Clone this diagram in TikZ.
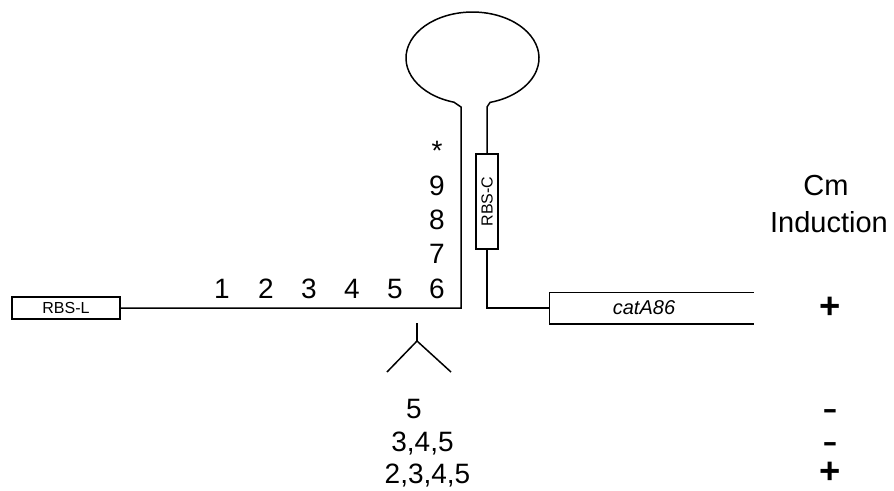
\documentclass[tikz,border=0pt]{standalone}
\usepackage{fontspec}
\setmainfont{Liberation Sans}
\begin{document}
\begin{tikzpicture}[x=1pt,y=1pt,line width=1.5pt,
  lbl/.style={font=\fontsize{28}{30}\selectfont, anchor=base, inner sep=0pt},
  head/.style={font=\fontsize{29}{31}\selectfont, anchor=base, inner sep=0pt},
  pm/.style={font=\fontsize{28}{30}\selectfont\bfseries, anchor=base, inner sep=0pt},
  smallbox/.style={draw, line width=1.5pt, font=\fontsize{16}{18}\selectfont, inner sep=0pt}]
\useasboundingbox (0,0) rectangle (894,-490);

% boxes
\node[smallbox, minimum width=108pt, minimum height=22pt] (rbsl) at (66,-308) {RBS-L};
\node[smallbox, minimum width=22pt, minimum height=95pt] (rbsc) at (487,-201.5) {\rotatebox{90}{RBS-C}};
\node[minimum width=203pt, minimum height=30pt, inner sep=0pt] (cat) at (651.5,-308) {};
\node[font=\fontsize{20}{22}\selectfont\itshape, inner sep=0pt] (catlbl) at (644,-308) {catA86};

% junction coordinates
\coordinate (jl) at (461,-308);
\coordinate (stl) at (461,-107);
\coordinate (el) at (453.95,-102.2);
\coordinate (str) at (487,-107);
\coordinate (jr) at (487,-308);

% stem-loop
\draw (rbsl.east) -- (jl) -- (stl) -- (el)
  arc[start angle=253.8, end angle=-74.7, x radius=66.5, y radius=46]
  -- (str) -- (rbsc.north);
\draw (rbsc.south) -- (jr) -- (cat.west);
\draw (cat.north east) -- (cat.north west) -- (cat.south west) -- (cat.south east);

% insertion mark
\coordinate (ytop) at (417,-323);
\coordinate (yj) at (417,-341);
\coordinate (yl) at (387,-372);
\coordinate (yr) at (451,-372);
\draw (ytop) -- (yj);
\draw (yl) -- (yj) -- (yr);

% position numbers
\node[lbl] (n1) at (222,-298) {1};
\node[lbl] (n2) at (266,-298) {2};
\node[lbl] (n3) at (309,-298) {3};
\node[lbl] (n4) at (352,-298) {4};
\node[lbl] (n5) at (395,-298) {5};
\node[lbl] (n6) at (437,-298) {6};
\node[lbl] (n7) at (437,-263) {7};
\node[lbl] (n8) at (437,-229) {8};
\node[lbl] (n9) at (437,-195) {9};
\node[lbl] (nstar) at (437,-160) {*};

% deletions
\node[lbl] (d1) at (414,-418) {5};
\node[lbl] (d2) at (422.5,-451) {3,4,5};
\node[lbl] (d3) at (427.5,-483) {2,3,4,5};

% Cm induction column
\node[head] (cm) at (826,-195) {Cm};
\node[head] (ind) at (829,-232) {Induction};
\node[pm] (p0) at (830,-318) {\scalebox{1.3}{+}};
\node[pm] (p1) at (830,-418) {\scalebox{1.6}[1]{-}};
\node[pm] (p2) at (830,-451) {\scalebox{1.6}[1]{-}};
\node[pm] (p3) at (830,-483) {\scalebox{1.3}{+}};
\end{tikzpicture}
\end{document}
